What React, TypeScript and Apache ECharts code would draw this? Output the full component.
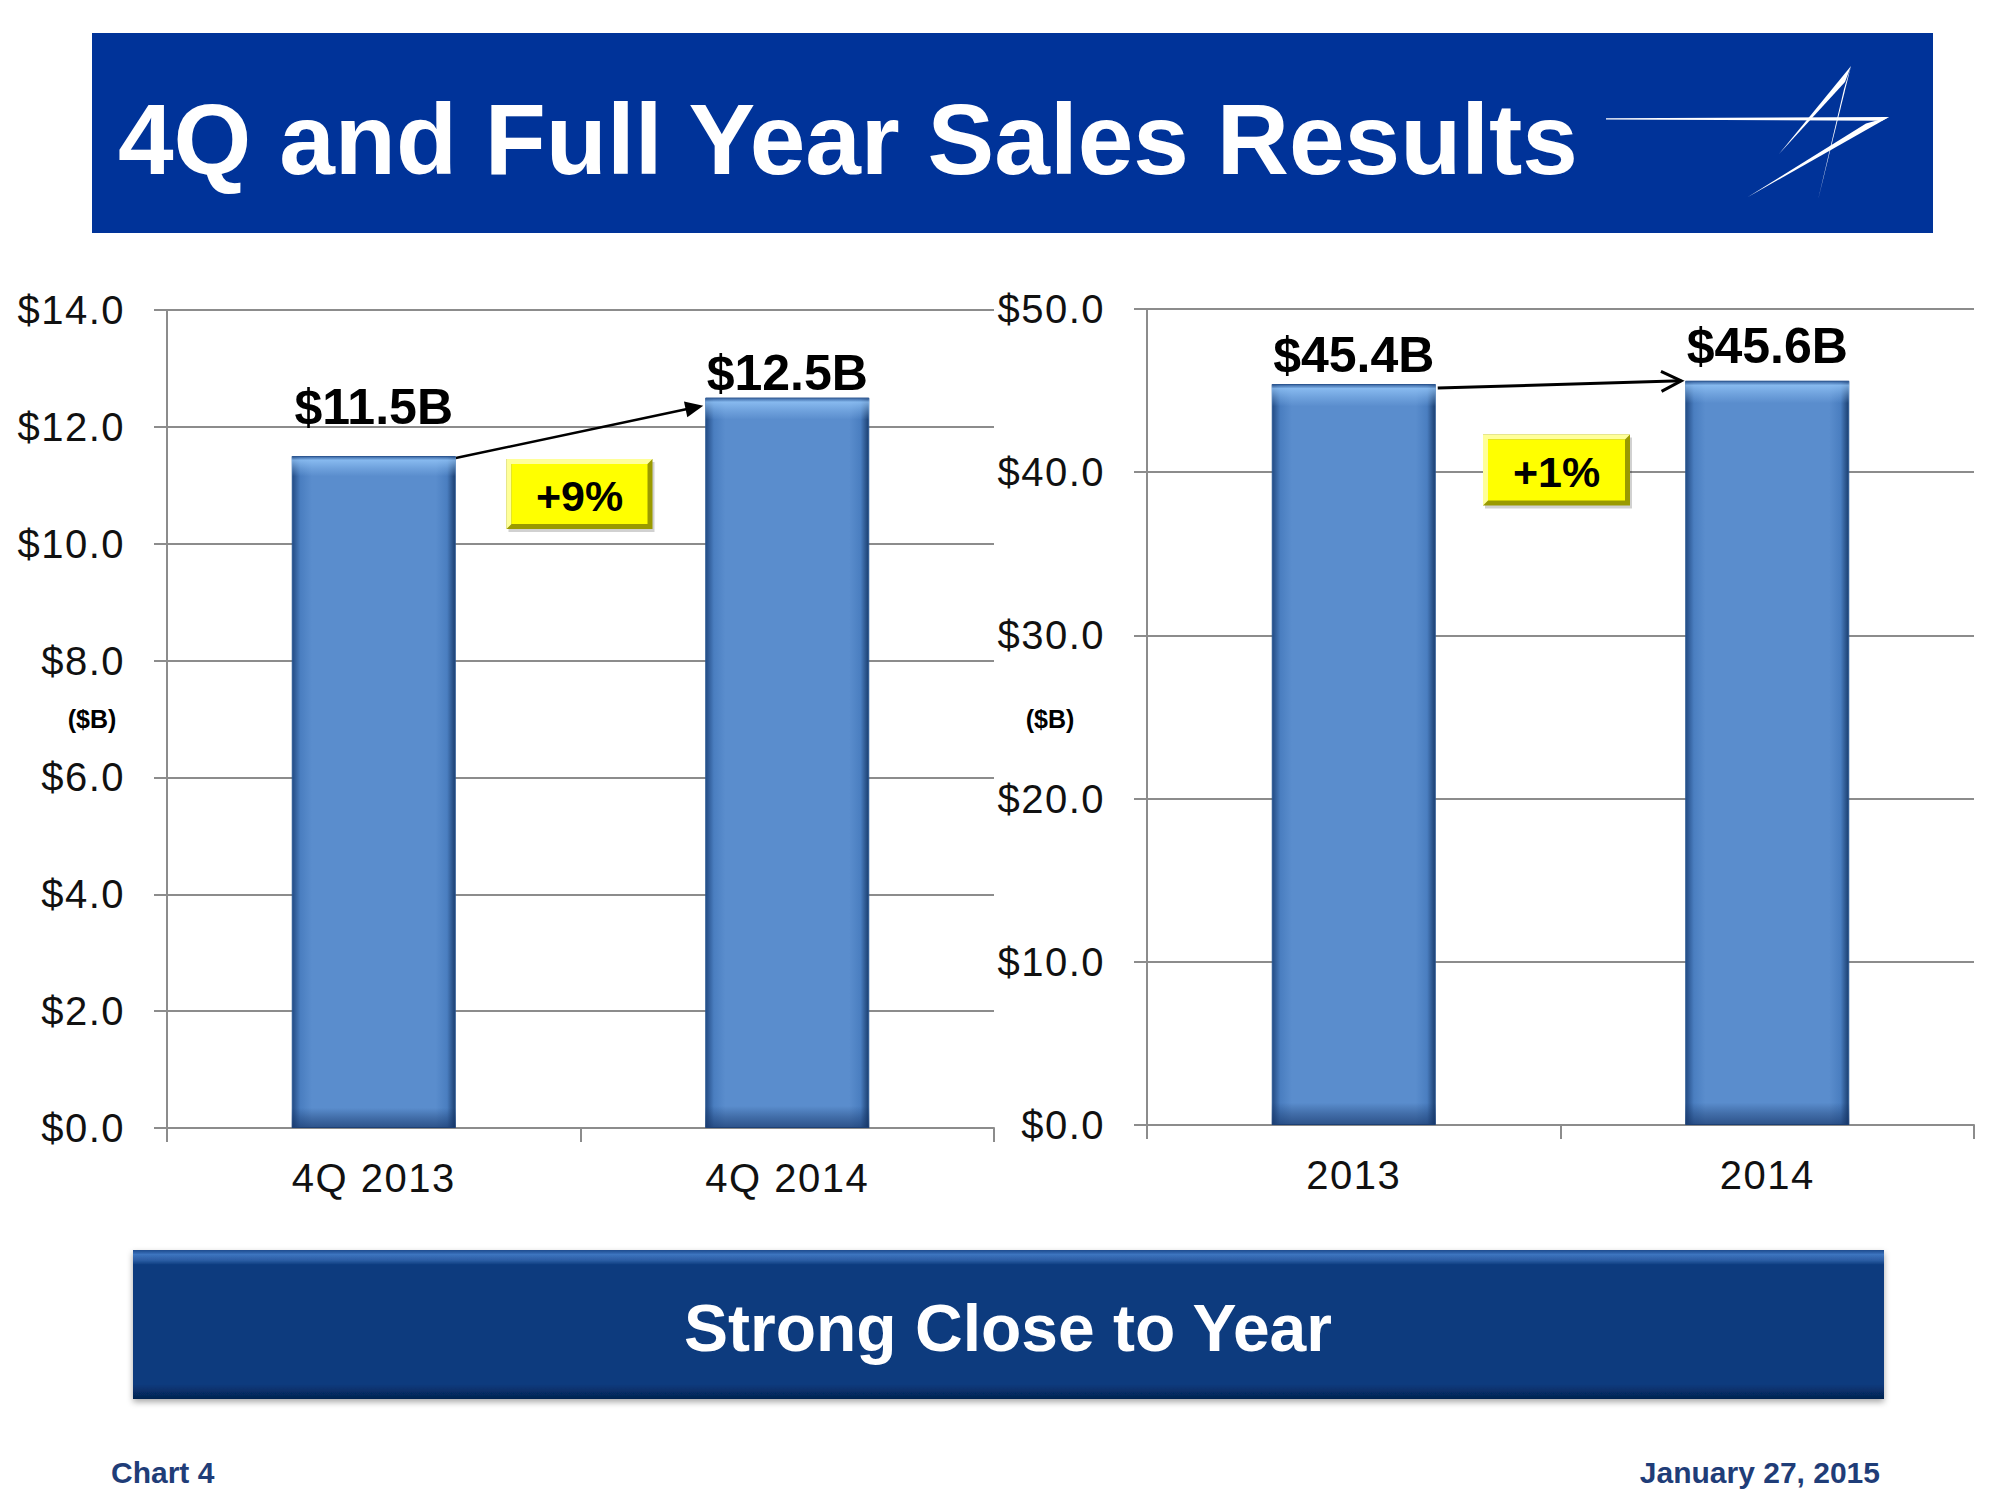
import React, { useEffect, useRef } from "react";
import * as echarts from "echarts";

// ---- data ----
const quarterCats = ["4Q 2013", "4Q 2014"];
const quarterSales = [11.5, 12.5];
const yearCats = ["2013", "2014"];
const yearSales = [45.4, 45.6];
const quarterAxis = { min: 0, max: 14, interval: 2 };
const yearAxis = { min: 0, max: 50, interval: 10 };
const quarterChange = "+9%";
const yearChange = "+1%";
const titleText = "4Q and Full Year Sales Results";
const bannerText = "Strong Close to Year";
const footerLeft = "Chart 4";
const footerRight = "January 27, 2015";
const unitLabel = "($B)";

// ---- style ----
const quarterLabelGap = [24, 0];
const yearLabelGap = [4, 10];
const axisFont = "'Liberation Sans', Helvetica, sans-serif";
const boldFont = "'Liberation Sans', Arial, sans-serif";
const gridColor = "#8c8c8c";
const BAR_W = 164;

export default function App() {
  const ref = useRef<HTMLDivElement>(null);

  useEffect(() => {
    const el = ref.current!;
    const chart = echarts.init(el, undefined, { renderer: "svg", width: 2000, height: 1500 });

    const barFill = new echarts.graphic.LinearGradient(0, 0, 1, 0, [
      { offset: 0, color: "#234b84" },
      { offset: 0.05, color: "#4a7ec0" },
      { offset: 0.12, color: "#5a8dcd" },
      { offset: 0.88, color: "#5a8dcd" },
      { offset: 0.95, color: "#4a7ec0" },
      { offset: 1, color: "#1b3f70" },
    ]);
    const barShine = new echarts.graphic.LinearGradient(0, 0, 0, 1, [
      { offset: 0, color: "rgba(30,70,130,0.6)" },
      { offset: 0.006, color: "rgba(150,200,250,0.75)" },
      { offset: 0.018, color: "rgba(150,200,250,0.35)" },
      { offset: 0.03, color: "rgba(150,200,250,0)" },
      { offset: 0.97, color: "rgba(20,50,100,0)" },
      { offset: 0.985, color: "rgba(20,50,100,0.35)" },
      { offset: 1, color: "rgba(20,50,100,0.65)" },
    ]);

    const lineStyle = { color: gridColor, width: 2 };
    const xAxisBase = (gridIndex: number, data: string[]) => ({
      gridIndex,
      type: "category",
      data,
      axisLine: { show: true, lineStyle },
      axisTick: { show: true, length: 14, lineStyle },
      axisLabel: { margin: 30, fontFamily: axisFont, fontSize: 40, color: "#111" },
    });
    const yAxisBase = (gridIndex: number, ax: { min: number; max: number; interval: number }) => ({
      gridIndex,
      type: "value",
      min: ax.min,
      max: ax.max,
      interval: ax.interval,
      axisLine: { show: true, lineStyle },
      axisTick: { show: true, length: 13, lineStyle },
      splitLine: { show: true, lineStyle },
      axisLabel: {
        margin: 42,
        fontFamily: axisFont,
        fontSize: 40,
        color: "#111",
        formatter: (v: number) => "$" + v.toFixed(1),
      },
    });
    const barLabel = {
      show: true,
      position: "top",
      fontFamily: boldFont,
      fontWeight: "bold",
      fontSize: 50,
      color: "#000",
      formatter: (p: any) => "$" + Number(p.value).toFixed(1) + "B",
    };
    const mainSeries = (idx: number, vals: number[], gaps: number[]) => ({
      type: "bar",
      xAxisIndex: idx,
      yAxisIndex: idx,
      barWidth: BAR_W,
      barGap: "-100%",
      data: vals.map((v, i) => ({ value: v, label: { distance: gaps[i] } })),
      itemStyle: { color: barFill, borderColor: "#2a5792", borderWidth: 1 },
      label: barLabel,
      z: 2,
    });
    const shineSeries = (idx: number, vals: number[]) => ({
      type: "bar",
      xAxisIndex: idx,
      yAxisIndex: idx,
      barWidth: BAR_W,
      barGap: "-100%",
      silent: true,
      data: vals,
      itemStyle: { color: barShine },
      label: { show: false },
      z: 3,
    });

    chart.setOption({
      animation: false,
      backgroundColor: "#ffffff",
      grid: [
        { left: 167, top: 310, width: 827, height: 818 },
        { left: 1147, top: 309, width: 827, height: 816 },
      ],
      xAxis: [xAxisBase(0, quarterCats), xAxisBase(1, yearCats)],
      yAxis: [yAxisBase(0, quarterAxis), yAxisBase(1, yearAxis)],
      series: [
        mainSeries(0, quarterSales, quarterLabelGap),
        shineSeries(0, quarterSales),
        mainSeries(1, yearSales, yearLabelGap),
        shineSeries(1, yearSales),
      ],
    });

    const px = (g: number, pt: [number, number]) =>
      chart.convertToPixel({ gridIndex: g } as any, pt) as unknown as number[];
    const half = BAR_W / 2;

    const arrow = (s: number[], e: number[], filled: boolean) => {
      const dx = e[0] - s[0];
      const dy = e[1] - s[1];
      const len = Math.hypot(dx, dy);
      const d = [dx / len, dy / len];
      const n = [-d[1], d[0]];
      const hl = filled ? 18 : 20;
      const hw = filled ? 8 : 10;
      const back = [e[0] - d[0] * hl, e[1] - d[1] * hl];
      const lineEnd = filled ? [e[0] - d[0] * (hl - 4), e[1] - d[1] * (hl - 4)] : e;
      const children: any[] = [
        {
          type: "line",
          shape: { x1: s[0], y1: s[1], x2: lineEnd[0], y2: lineEnd[1] },
          style: { stroke: "#000", lineWidth: filled ? 2.5 : 3 },
        },
      ];
      const p1 = [back[0] + n[0] * hw, back[1] + n[1] * hw];
      const p2 = [back[0] - n[0] * hw, back[1] - n[1] * hw];
      if (filled) {
        children.push({ type: "polygon", shape: { points: [e, p1, p2] }, style: { fill: "#000" } });
      } else {
        children.push({
          type: "polyline",
          shape: { points: [p1, e, p2] },
          style: { stroke: "#000", lineWidth: 3, fill: null },
        });
      }
      return { type: "group", children };
    };

    const yellowBox = (cx: number, cy: number, w: number, h: number, text: string) => {
      const x0 = cx - w / 2;
      const y0 = cy - h / 2;
      const x1 = x0 + w;
      const y1 = y0 + h;
      const b = 5;
      return {
        type: "group",
        children: [
          { type: "rect", shape: { x: x0 + 2, y: y0 + 3, width: w, height: h }, style: { fill: "rgba(0,0,0,0.18)" } },
          { type: "rect", shape: { x: x0, y: y0, width: w, height: h }, style: { fill: "#9a9a00" } },
          {
            type: "polygon",
            shape: { points: [[x0, y0], [x1, y0], [x1 - b, y0 + b], [x0 + b, y0 + b], [x0 + b, y1 - b], [x0, y1]] },
            style: { fill: "#ffff99" },
          },
          { type: "rect", shape: { x: x0 + b, y: y0 + b, width: w - 2 * b, height: h - 2 * b }, style: { fill: "#ffff00" } },
          {
            type: "text",
            x: cx,
            y: cy + 2,
            style: {
              text,
              align: "center",
              verticalAlign: "middle",
              fontFamily: boldFont,
              fontWeight: "bold",
              fontSize: 43,
              fill: "#000",
            },
          },
        ],
      };
    };

    const q0 = px(0, [0, quarterSales[0]]);
    const q1 = px(0, [1, quarterSales[1]]);
    const y0p = px(1, [0, yearSales[0]]);
    const y1p = px(1, [1, yearSales[1]]);
    const qMid = (q0[0] + q1[0]) / 2;
    const yMid = (y0p[0] + y1p[0]) / 2;

    const logo = {
      type: "group",
      children: [
        { type: "polygon", shape: { points: [[1606, 118.3], [1889, 117], [1882, 120.8], [1606, 119.6]] }, style: { fill: "#fff" } },
        { type: "polygon", shape: { points: [[1889, 117], [1747, 197.5], [1866, 123.5]] }, style: { fill: "#fff" } },
        { type: "polygon", shape: { points: [[1779, 154], [1851, 66], [1845, 82]] }, style: { fill: "#fff" } },
        { type: "polygon", shape: { points: [[1851, 66], [1818, 200], [1844, 89]] }, style: { fill: "#fff" } },
      ],
    };

    const bannerFill = new echarts.graphic.LinearGradient(0, 0, 0, 1, [
      { offset: 0, color: "#1c4a8c" },
      { offset: 0.03, color: "#3d74bf" },
      { offset: 0.07, color: "#2a5ca3" },
      { offset: 0.1, color: "#0a3b7e" },
      { offset: 0.9, color: "#0a3b7e" },
      { offset: 0.95, color: "#072f68" },
      { offset: 1, color: "#05234f" },
    ]);

    chart.setOption({
      graphic: [
        { type: "rect", shape: { x: 92, y: 33, width: 1841, height: 200 }, style: { fill: "#003399" } },
        {
          type: "text",
          x: 118,
          y: 139,
          style: {
            text: titleText,
            verticalAlign: "middle",
            fontFamily: boldFont,
            fontWeight: "bold",
            fontSize: 100,
            fill: "#ffffff",
          },
        },
        logo,
        {
          type: "text",
          x: 92,
          y: 719,
          style: { text: unitLabel, align: "center", verticalAlign: "middle", fontFamily: boldFont, fontWeight: "bold", fontSize: 25, fill: "#000" },
        },
        {
          type: "text",
          x: 1050,
          y: 719,
          style: { text: unitLabel, align: "center", verticalAlign: "middle", fontFamily: boldFont, fontWeight: "bold", fontSize: 25, fill: "#000" },
        },
        arrow([q0[0] + half, q0[1] + 2], [q1[0] - half - 2, q1[1] + 8], true),
        arrow([y0p[0] + half + 2, y0p[1] + 4], [y1p[0] - half - 4, y1p[1]], false),
        yellowBox(qMid - 1, 494, 146, 70, quarterChange),
        yellowBox(yMid - 4, 470, 147, 71, yearChange),
        {
          type: "rect",
          shape: { x: 133, y: 1250, width: 1751, height: 149 },
          style: { fill: bannerFill, shadowBlur: 6, shadowColor: "rgba(0,0,0,0.35)", shadowOffsetY: 3 },
        },
        {
          type: "text",
          x: 1008,
          y: 1328,
          style: {
            text: bannerText,
            align: "center",
            verticalAlign: "middle",
            fontFamily: boldFont,
            fontWeight: "bold",
            fontSize: 66,
            fill: "#ffffff",
          },
        },
        {
          type: "text",
          x: 111,
          y: 1472,
          style: { text: footerLeft, verticalAlign: "middle", fontFamily: boldFont, fontWeight: "bold", fontSize: 30, fill: "#1f3d78" },
        },
        {
          type: "text",
          x: 1880,
          y: 1472,
          style: { text: footerRight, align: "right", verticalAlign: "middle", fontFamily: boldFont, fontWeight: "bold", fontSize: 30, fill: "#1f3d78" },
        },
      ],
    });

    return () => chart.dispose();
  }, []);

  return (
    <>
      <style>{`#lm-chart text[style*="Helvetica"]{letter-spacing:1.5px;}`}</style>
      <div
        id="lm-chart"
        ref={ref}
        style={{ position: "absolute", left: 0, top: 0, width: 2000, height: 1500, background: "#fff" }}
      />
    </>
  );
}
